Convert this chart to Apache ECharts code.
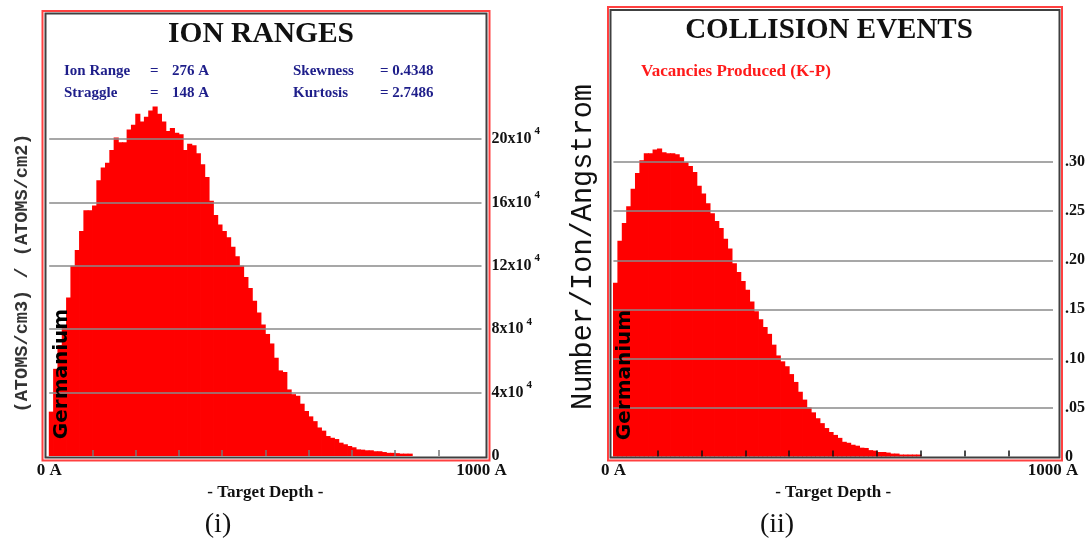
<!DOCTYPE html>
<html><head><meta charset="utf-8">
<script src="https://cdn.jsdelivr.net/npm/echarts@6/dist/echarts.min.js"></script>
<style>html,body{margin:0;padding:0;background:#fff;}#c{width:1088px;height:543px;}</style>
</head><body><div id="c"></div>
<script>
// ---- data ----
// depth bins (10 A each, 0..990 A)
const depthBins = [];
for (let i = 0; i < 100; i++) depthBins.push(String(i * 10));

// Ion ranges, (atoms/cm3)/(atoms/cm2), in units of 10^4
const ionRange = [
  2.8, 5.5, 7.0, 8.2, 10.0, 12.0, 13.0, 14.2, 15.5, 15.5,
  15.8, 17.4, 18.2, 18.5, 19.3, 20.1, 19.8, 19.8, 20.6, 20.9,
  21.6, 21.1, 21.4, 21.8, 22.05, 21.6, 21.1, 20.5, 20.7, 20.4,
  20.3, 19.3, 19.7, 19.6, 19.1, 18.4, 17.6, 16.1, 15.2, 14.6,
  14.2, 13.8, 13.2, 12.6, 12.0, 11.3, 10.6, 9.8, 9.05, 8.3,
  7.7, 7.1, 6.2, 5.4, 5.3, 4.2, 3.9, 3.8, 3.3, 2.84,
  2.5, 2.2, 1.8, 1.6, 1.26, 1.15, 1.07, 0.84, 0.74, 0.63,
  0.55, 0.42, 0.4, 0.36, 0.36, 0.3, 0.3, 0.25, 0.2, 0.2,
  0.18, 0.15, 0.15, 0.15, 0, 0, 0, 0, 0, 0,
  0, 0, 0, 0, 0, 0, 0, 0, 0, 0
];

// Vacancies produced (K-P), number/ion/angstrom
const vacancies = [
  0.177, 0.220, 0.238, 0.255, 0.273, 0.289, 0.302, 0.309, 0.309, 0.313,
  0.314, 0.310, 0.309, 0.309, 0.308, 0.305, 0.300, 0.296, 0.290, 0.276,
  0.268, 0.258, 0.248, 0.240, 0.233, 0.222, 0.212, 0.197, 0.188, 0.179,
  0.170, 0.158, 0.148, 0.140, 0.132, 0.125, 0.114, 0.103, 0.097, 0.092,
  0.084, 0.076, 0.066, 0.058, 0.050, 0.045, 0.039, 0.034, 0.029, 0.025,
  0.022, 0.019, 0.015, 0.014, 0.012, 0.011, 0.009, 0.0087, 0.0065, 0.006,
  0.0046, 0.0046, 0.004, 0.003, 0.003, 0.002, 0.002, 0.002, 0.002, 0.002,
  0, 0, 0, 0, 0, 0, 0, 0, 0, 0,
  0, 0, 0, 0, 0, 0, 0, 0, 0, 0,
  0, 0, 0, 0, 0, 0, 0, 0, 0, 0
];

const ionTicks = [0, 4, 8, 12, 16, 20];
const vacTicks = [0, 0.05, 0.10, 0.15, 0.20, 0.25, 0.30];
const depthTicks = [100, 200, 300, 400, 500, 600, 700, 800, 900];
const depthLabels = [0, 1000];

const ionStatRows = [['Ion Range', '=', '276 A', 'Skewness', '= 0.4348'],
                     ['Straggle', '=', '148 A', 'Kurtosis', '= 2.7486']];

// ---- styles ----
const SERIF = '"Liberation Serif", "Times New Roman", serif';
const RED = '#ff0000';
const GRIDC = '#8a8a8a';

function gridSeries(xi, yi, vals) {
  return {
    type: 'line', xAxisIndex: xi, yAxisIndex: yi, data: [], silent: true, z: 4,
    markLine: {
      silent: true, symbol: ['none', 'none'], animation: false, z: 5,
      label: { show: false },
      lineStyle: { color: GRIDC, width: 1.6, type: 'solid' },
      emphasis: { disabled: true },
      data: vals.filter(v => v > 0).map(v => ({ yAxis: v }))
    }
  };
}

// histogram bars drawn through the axis scales (slightly overlapped to avoid seams)
function histRender(params, api) {
  const top = api.coord([api.value(0), api.value(1)]);
  const base = api.coord([api.value(0), 0]);
  const w = api.size([1, 0])[0];
  return {
    type: 'rect',
    shape: { x: top[0] - w / 2 - 0.4, y: top[1], width: w + 0.8, height: base[1] - top[1] },
    style: { fill: RED }
  };
}

const chart = echarts.init(document.getElementById('c'), null, { renderer: 'canvas' });

const axisLabelFont = { fontFamily: SERIF, fontWeight: 'bold', fontSize: 17, color: '#111' };

const option = {
  animation: false,
  backgroundColor: '#fff',
  grid: [
    { left: 49.2, width: 432.3, top: 75.6, bottom: 87 },
    { left: 613.4, width: 443.3, top: 113.1, bottom: 86.5 }
  ],
  xAxis: [
    { type: 'category', gridIndex: 0, data: depthBins, show: false },
    { type: 'category', gridIndex: 1, data: depthBins, show: false },
    {
      type: 'value', gridIndex: 0, min: 0, max: 1000, position: 'bottom', z: 6,
      axisLine: { show: false }, splitLine: { show: false },
      axisTick: { show: true, inside: true, length: 6, customValues: depthTicks, lineStyle: { color: '#777', width: 1.5 } },
      axisLabel: Object.assign({ customValues: depthLabels, margin: 6, formatter: v => v + ' A' }, axisLabelFont),
      name: '- Target Depth -', nameLocation: 'middle', nameGap: 6,
      nameTextStyle: axisLabelFont
    },
    {
      type: 'value', gridIndex: 1, min: 0, max: 1000, position: 'bottom', z: 6,
      axisLine: { show: false }, splitLine: { show: false },
      axisTick: { show: true, inside: true, length: 6, customValues: depthTicks, lineStyle: { color: '#111', width: 1.5 } },
      axisLabel: Object.assign({ customValues: depthLabels, margin: 6, formatter: v => v + ' A' }, axisLabelFont),
      name: '- Target Depth -', nameLocation: 'middle', nameGap: 6,
      nameTextStyle: axisLabelFont
    }
  ],
  yAxis: [
    {
      type: 'value', gridIndex: 0, min: 0, max: 24, interval: 4, position: 'right',
      axisLine: { show: false }, axisTick: { show: false }, splitLine: { show: false },
      axisLabel: {
        customValues: ionTicks, margin: 10,
        formatter: v => v === 0 ? '{b|0}' : '{b|' + v + 'x10}{s|4}',
        rich: {
          b: { fontFamily: SERIF, fontWeight: 'bold', fontSize: 16, color: '#111', lineHeight: 26 },
          s: { fontFamily: SERIF, fontWeight: 'bold', fontSize: 11, color: '#111', lineHeight: 11, verticalAlign: 'top', padding: [0, 0, 0, 3] }
        }
      }
    },
    {
      type: 'value', gridIndex: 1, min: 0, max: 0.35, interval: 0.05, position: 'right',
      axisLine: { show: false }, axisTick: { show: false }, splitLine: { show: false },
      axisLabel: {
        customValues: vacTicks, margin: 12,
        formatter: v => v === 0 ? '0' : v.toFixed(2).replace(/^0/, ''),
        fontFamily: SERIF, fontWeight: 'bold', fontSize: 16, color: '#111'
      }
    }
  ],
  series: [
    {
      type: 'custom', xAxisIndex: 0, yAxisIndex: 0, silent: true, z: 2,
      data: ionRange.map((v, i) => [i, v]), encode: { x: 0, y: 1 },
      renderItem: histRender
    },
    {
      type: 'custom', xAxisIndex: 1, yAxisIndex: 1, silent: true, z: 2,
      data: vacancies.map((v, i) => [i, v]), encode: { x: 0, y: 1 },
      renderItem: histRender
    },
    gridSeries(0, 0, ionTicks),
    gridSeries(1, 1, vacTicks)
  ],
  graphic: []
};

const g = option.graphic;
function txt(text, x, y, font, fill, align, rot) {
  g.push({ type: 'text', x: x, y: y, rotation: rot || 0, z: 50, silent: true,
    style: { text: text, font: font, fill: fill, align: align || 'left', verticalAlign: 'middle' } });
}
function box(x1, y1, x2, y2, color, lw) {
  g.push({ type: 'rect', z: 60, silent: true, shape: { x: x1, y: y1, width: x2 - x1, height: y2 - y1 },
    style: { fill: 'none', stroke: color, lineWidth: lw } });
}
// panel frames
box(42.5, 11, 489.5, 460.5, '#ff4040', 2);
box(45.5, 13.5, 486.5, 457.5, '#404040', 2);
box(608, 7, 1062, 460.5, '#ff4040', 2);
box(610.5, 10, 1059.5, 457.5, '#404040', 2);

// titles
txt('ION RANGES', 261, 34, 'bold 29.5px ' + SERIF, '#111', 'center');
txt('COLLISION EVENTS', 829, 31, 'bold 29px ' + SERIF, '#111', 'center');

// statistics
const NAVY = '#1e1e8a';
const statFont = 'bold 15px ' + SERIF;
const statX = [64, 150, 172, 293, 380];
const statY = [71.5, 93];
ionStatRows.forEach((row, r) => row.forEach((t, c) => txt(t, statX[c], statY[r], statFont, NAVY, 'left')));

txt('Vacancies Produced (K-P)', 641, 72, 'bold 17px ' + SERIF, '#ff1a1a', 'left');

// vertical axis titles
txt('(ATOMS/cm3) / (ATOMS/cm2)', 22, 273, 'bold 18.6px "Liberation Mono", monospace', '#333', 'center', Math.PI / 2);
txt('Number/Ion/Angstrom', 583, 247, '28.6px "Liberation Mono", monospace', '#111', 'center', Math.PI / 2);

// target material
txt('Germanium', 62, 374, 'bold 20px "DejaVu Sans", sans-serif', '#000', 'center', Math.PI / 2);
txt('Germanium', 625, 375, 'bold 20px "DejaVu Sans", sans-serif', '#000', 'center', Math.PI / 2);

// panel captions
txt('(i)', 218, 525, '28px ' + SERIF, '#111', 'center');
txt('(ii)', 777, 525, '28px ' + SERIF, '#111', 'center');

chart.setOption(option);
</script>
</body></html>
